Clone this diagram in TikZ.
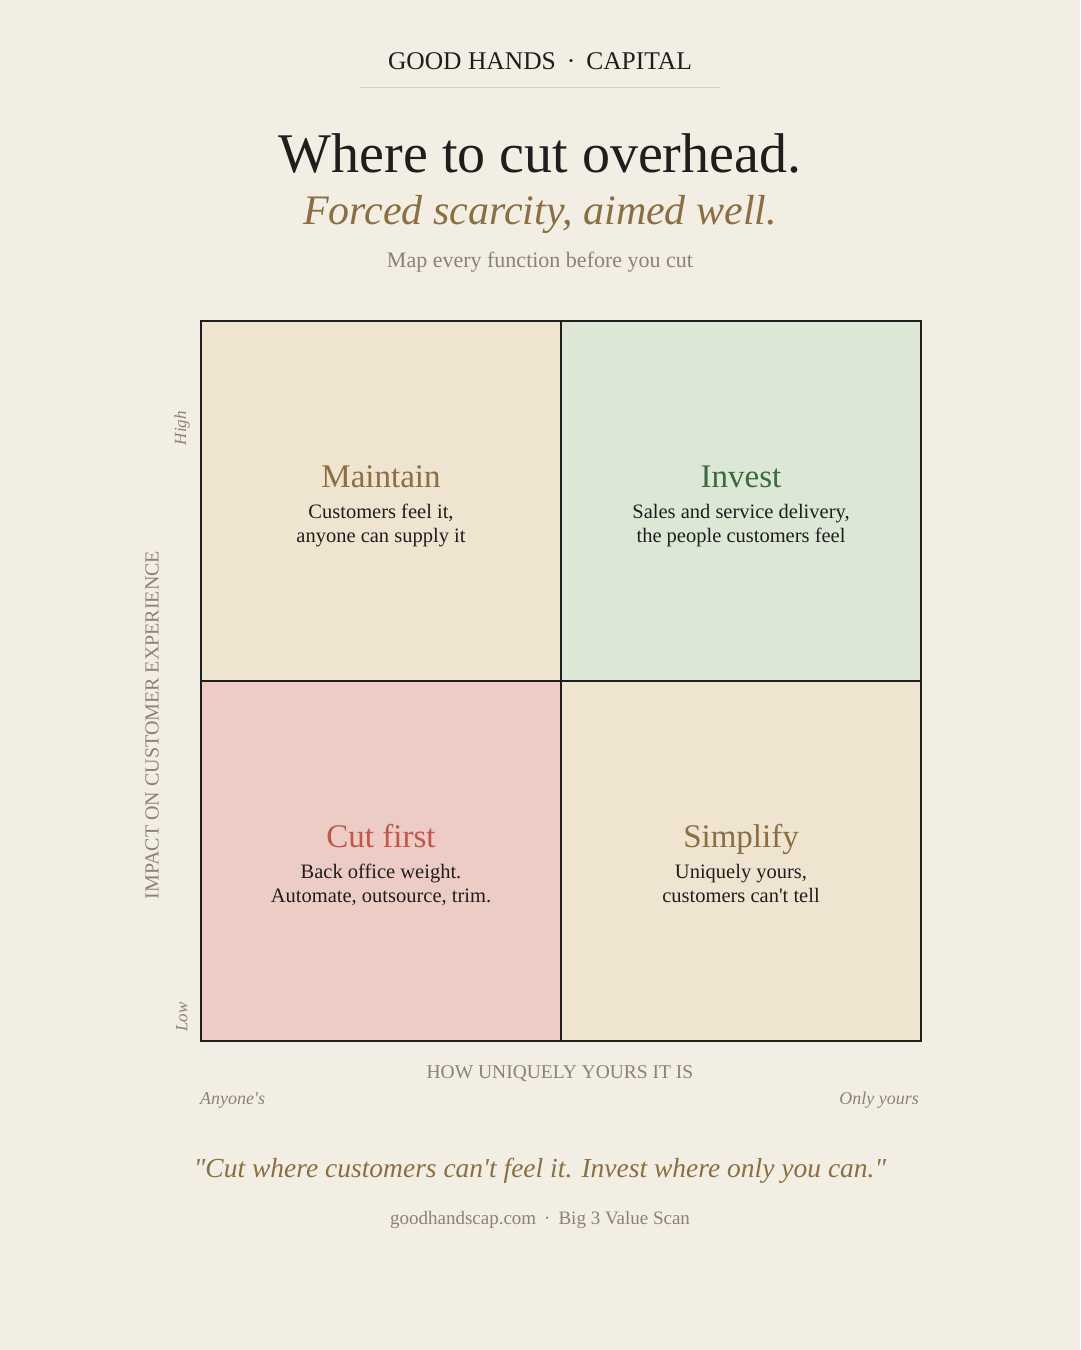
\documentclass[tikz,border=0pt]{standalone}
\usepackage{fontspec}
\setmainfont{Liberation Serif}
\definecolor{bg}{HTML}{F2EEE4}
\definecolor{rulec}{HTML}{D6D0C4}
\definecolor{ink}{HTML}{1E1E1E}
\definecolor{gold}{HTML}{8B6F43}
\definecolor{leaf}{HTML}{3A6B3E}
\definecolor{brick}{HTML}{C0574A}
\definecolor{muted}{HTML}{8A8276}
\definecolor{sand}{HTML}{EFE4CF}
\definecolor{mint}{HTML}{DCE8D5}
\definecolor{rose}{HTML}{EDCCC6}
\newcommand{\fs}[1]{\fontsize{#1bp}{1.2\dimexpr#1bp\relax}\selectfont}
\newcommand{\sq}{\textquotesingle}
\newcommand{\dq}{\textquotedbl}
\begin{document}
\begin{tikzpicture}[x=1bp,y=-1bp,
  quad/.style={draw=ink,line width=2bp,minimum width=360bp,minimum height=360bp,inner sep=0pt,outer sep=0pt},
  qtitle/.style={anchor=base,font=\fs{33}},
  qdesc/.style={anchor=base,align=center,text=ink,font=\fs{20.5},inner sep=0pt},
  axis/.style={text=muted,font=\fs{19.5},inner sep=0pt},
  tick/.style={text=muted,font=\fs{18}\itshape,inner sep=0pt}]
\useasboundingbox (0,0) rectangle (1080,1350);
\fill[bg] (0,0) rectangle (1080,1350);
% header
\node[anchor=base,text=ink,font=\fs{25.5},inner sep=0pt] (brand) at (540,70) {GOOD HANDS\hspace{11bp}·\hspace{11bp}CAPITAL};
\coordinate (rl) at (360,88);
\coordinate (rr) at (720,88);
\draw[rulec,line width=1bp] (rl) -- (rr);
\node[anchor=base,text=ink,font=\fs{56},inner sep=0pt] (title) at (540,173) {Where to cut overhead.};
\node[anchor=base,text=gold,font=\fs{42}\itshape,inner sep=0pt] (sub) at (540,225) {Forced scarcity, aimed well.};
\node[anchor=base,text=muted,font=\fs{22},inner sep=0pt] (tag) at (540,268) {Map every function before you cut};
% quadrants
\node[quad,fill=sand] (qm) at (381,501) {};
\node[quad,fill=mint] (qi) at (741,501) {};
\node[quad,fill=rose] (qc) at (381,861) {};
\node[quad,fill=sand] (qs) at (741,861) {};
% quadrant texts
\node[qtitle,text=gold] (tm) at (381,487) {Maintain};
\node[qdesc] (dm) at (381,518) {Customers feel it,};
\node[qdesc] (dm2) at (381,542) {anyone can supply it};
\node[qtitle,text=leaf] (ti) at (741,487) {Invest};
\node[qdesc] (di) at (741,518) {Sales and service delivery,};
\node[qdesc] (di2) at (741,542) {the people customers feel};
\node[qtitle,text=brick] (tc) at (381,847) {Cut first};
\node[qdesc] (dc) at (381,878) {Back office weight.};
\node[qdesc] (dc2) at (381,902) {Automate, outsource, trim.};
\node[qtitle,text=gold] (ts) at (741,847) {Simplify};
\node[qdesc] (ds) at (741,878) {Uniquely yours,};
\node[qdesc] (ds2) at (741,902) {customers can\sq t tell};
% axes
\node[axis,rotate=90,font=\fs{20}] (yl) at (152,725) {IMPACT ON CUSTOMER EXPERIENCE};
\node[tick,rotate=90,font=\fs{17}\itshape] (yh) at (182,428) {High};
\node[tick,rotate=90,font=\fs{17}\itshape] (ylo) at (182,1017) {Low};
\node[axis,anchor=base] (xl) at (560,1078) {HOW UNIQUELY YOURS IT IS};
\node[tick,anchor=base west] (xa) at (200,1104) {Anyone\sq s};
\node[tick,anchor=base east] (xo) at (919,1104) {Only yours};
% footer
\node[anchor=base,text=gold,font=\fs{27.5}\itshape,inner sep=0pt] (quote) at (540,1177) {\dq Cut where customers can\sq t feel it. Invest where only you can.\dq};
\node[anchor=base,text=muted,font=\fs{19},inner sep=0pt] (foot) at (540,1224) {goodhandscap.com\hspace{8bp}·\hspace{8bp}Big 3 Value Scan};
\end{tikzpicture}
\end{document}
